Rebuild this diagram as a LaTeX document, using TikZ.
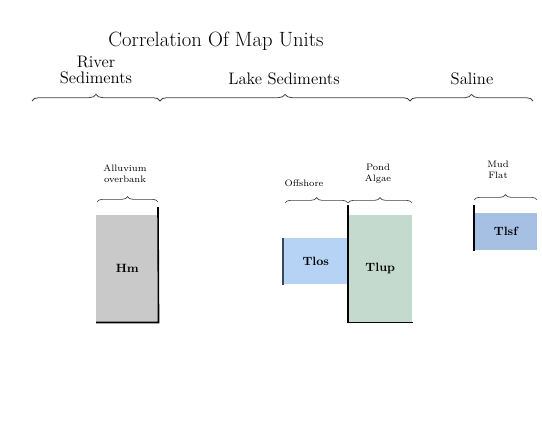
\documentclass[tikz,border=0pt]{standalone}
\usetikzlibrary{decorations.pathreplacing}
\begin{document}
\begin{tikzpicture}[x=0.75pt,y=-0.75pt,
  lbl/.style={font=\fontsize{12.5}{12.5}\selectfont, align=center, inner sep=0pt},
  sublbl/.style={font=\fontsize{7}{8}\selectfont, align=center, inner sep=0pt},
  unit/.style={font=\bfseries\fontsize{9}{9}\selectfont, inner sep=0pt},
  bigbrace/.style={draw=black!75, line width=0.6pt, decorate, decoration={brace, amplitude=5pt}},
  smallbrace/.style={draw=black!75, line width=0.5pt, decorate, decoration={brace, amplitude=4pt}},
  edge/.style={draw=black, line width=1.2pt}]
\useasboundingbox (0,0) rectangle (542,429);
\fill[white] (0,0) rectangle (542,429);
% title
\node[font=\fontsize{15.5}{15.5}\selectfont, inner sep=0pt] (title) at (216,41) {Correlation Of Map Units};
% group labels
\node[lbl] (river) at (96,70) {River\\Sediments};
\node[lbl] (lake) at (284,79) {Lake Sediments};
\node[lbl] (saline) at (472,79) {Saline};
% group braces
\coordinate (r1) at (32,101); \coordinate (r2) at (160,101);
\coordinate (l1) at (160,101); \coordinate (l2) at (410,101);
\coordinate (s1) at (410,101); \coordinate (s2) at (533,101);
\draw[bigbrace] (r1) -- (r2);
\draw[bigbrace] (l1) -- (l2);
\draw[bigbrace] (s1) -- (s2);
% boxes
\node[draw=none, fill=black!21, minimum width=62*0.75pt, minimum height=107*0.75pt, anchor=north west, inner sep=0pt] (hm) at (96,215) {};
\node[unit] at (hm.center) {Hm};
\node[draw=none, fill={rgb,255:red,182;green,211;blue,246}, minimum width=65*0.75pt, minimum height=46*0.75pt, anchor=north west, inner sep=0pt] (tlos) at (283,238) {};
\node[unit] at (tlos.center) {Tlos};
\node[draw=none, fill={rgb,255:red,196;green,218;blue,206}, minimum width=64*0.75pt, minimum height=107*0.75pt, anchor=north west, inner sep=0pt] (tlup) at (348,215) {};
\node[unit] at (tlup.center) {Tlup};
\node[draw=none, fill={rgb,255:red,166;green,192;blue,228}, minimum width=63*0.75pt, minimum height=37*0.75pt, anchor=north west, inner sep=0pt] (tlsf) at (474,213) {};
\node[unit] at (tlsf.center) {Tlsf};
% box edges
\coordinate (hmtop) at (158,207);
\draw[edge] (hmtop) -- (hm.south east) -- (hm.south west);
\coordinate (tluptop) at (348,205);
\draw[edge] (tluptop) -- (tlup.south west) -- (tlup.south east);
\draw[edge, draw={rgb,255:red,60;green,70;blue,90}] (tlos.north west) -- (tlos.south west);
\coordinate (tlsftop) at (474,205);
\draw[edge] (tlsftop) -- (tlsf.south west);
% sub labels
\node[sublbl] (allu) at (125,174) {Alluvium\\overbank};
\node[sublbl] (offs) at (304,183) {Offshore};
\node[sublbl] (pond) at (378,174) {Pond\\Algae};
\node[sublbl] (mud) at (498,170) {Mud\\Flat};
% sub braces
\coordinate (a1) at (97,202); \coordinate (a2) at (158,202);
\coordinate (o1) at (285,203); \coordinate (o2) at (348,203);
\coordinate (p1) at (348,203); \coordinate (p2) at (412,203);
\coordinate (m1) at (474,200); \coordinate (m2) at (537,200);
\draw[smallbrace] (a1) -- (a2);
\draw[smallbrace] (o1) -- (o2);
\draw[smallbrace] (p1) -- (p2);
\draw[smallbrace] (m1) -- (m2);
\end{tikzpicture}
\end{document}
